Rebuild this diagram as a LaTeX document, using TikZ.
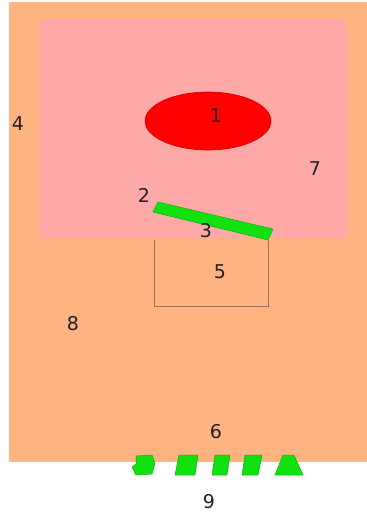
\documentclass[tikz,border=0pt]{standalone}
\usepackage{fontspec}
\setmainfont{DejaVu Sans}
\definecolor{peach}{HTML}{FFB380}
\definecolor{rosy}{HTML}{FFA8A8}
\definecolor{brightred}{HTML}{FF0000}
\definecolor{brightgreen}{HTML}{11E011}
\definecolor{boxline}{HTML}{A07058}
\definecolor{labelc}{HTML}{222222}
\begin{document}
\begin{tikzpicture}[x=1pt,y=-1pt,
  lbl/.style={font=\fontsize{19}{22}\selectfont, text=labelc, inner sep=0pt},
  greenpart/.style={fill=brightgreen, draw=brightgreen!80!black, line width=0.5pt, line join=round}]
\useasboundingbox (0,0) rectangle (367,523);
\fill[white] (0,0) rectangle (367,523);
% outer region 8
\fill[peach] (9,2) rectangle (367,462);
% inner region 7
\fill[rosy] (40,20) rectangle (347,238);
% region 1
\fill[brightred, draw=brightred!85!black, line width=0.6pt] (208,121) ellipse [x radius=63, y radius=29];
% region 5 box
\draw[boxline, line width=0.8pt] (154,240) -- (154,306) -- (268,306) -- (268,240);
% green bar 3
\path[greenpart] (158,202) -- (273,229) -- (268,240) -- (153,212) -- cycle;
% bottom green parts
\path[greenpart] (136,456) -- (152,455) -- (155,463) -- (152,474) -- (136,475) -- (132,467) -- (136,464) -- cycle;
\path[greenpart] (179,455) -- (198,455) -- (195,475) -- (175,475) -- cycle;
\path[greenpart] (215,455) -- (230,455) -- (227,475) -- (212,475) -- cycle;
\path[greenpart] (245,455) -- (262,455) -- (258,475) -- (242,475) -- cycle;
\path[greenpart] (283,455) -- (294,455) -- (303,475) -- (275,475) -- cycle;
% labels
\node[lbl] (l1) at (216,116) {1};
\node[lbl] (l2) at (144,195) {2};
\node[lbl] (l3) at (206,231) {3};
\node[lbl] (l4) at (18,124) {4};
\node[lbl] (l5) at (220,272) {5};
\node[lbl] (l6) at (216,432) {6};
\node[lbl] (l7) at (315,169) {7};
\node[lbl] (l8) at (73,324) {8};
\node[lbl] (l9) at (209,502) {9};
\end{tikzpicture}
\end{document}
